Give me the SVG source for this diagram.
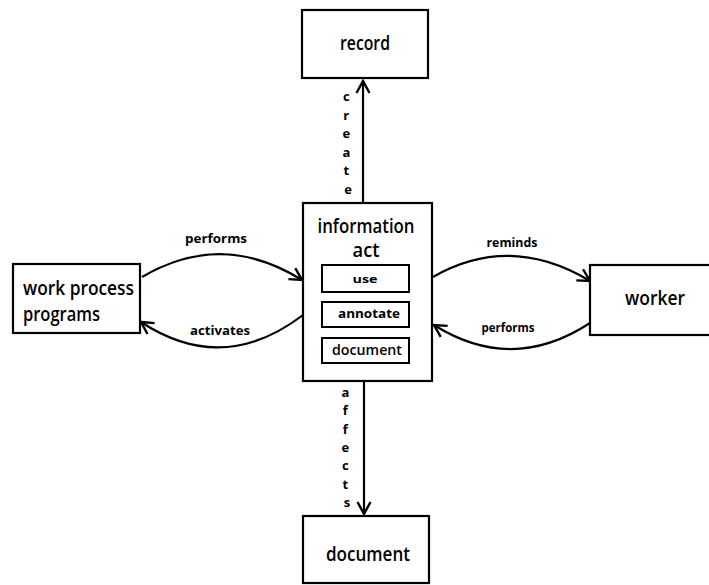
<svg xmlns="http://www.w3.org/2000/svg" width="709" height="585" viewBox="0 0 709 585">
  <style>
    .box { fill: #fff; stroke: #000; stroke-width: 2.2; }
    .sub { fill: #fff; stroke: #000; stroke-width: 2; }
    .conn { fill: none; stroke: #000; stroke-width: 2.2; }
    text { font-family: "Open Sans", "DejaVu Sans", sans-serif; fill: #000; text-anchor: middle; }
    .big { font-size: 19px; font-weight: 600; }
    .lbl { font-size: 12px; font-weight: 700; }
    .vert { font-size: 13px; font-weight: 700; }
  </style>
  <defs>
    <marker id="arrow" markerUnits="userSpaceOnUse" markerWidth="16" markerHeight="16" refX="13" refY="8" orient="auto" viewBox="0 0 16 16">
      <path d="M1,1.5 L13,8 L1,14.5" fill="none" stroke="#000" stroke-width="2.4" stroke-linejoin="miter"/>
    </marker>
  </defs>

  <rect width="709" height="585" fill="#fff"/>

  <!-- connectors -->
  <g id="connectors">
    <path class="conn" d="M363,203 L363,81" marker-end="url(#arrow)"/>
    <path class="conn" d="M364,381 L364,514" marker-end="url(#arrow)"/>
    <path class="conn" d="M142,277 Q222,230 302,280" marker-end="url(#arrow)"/>
    <path class="conn" d="M303,315 Q223,376 141,322" marker-end="url(#arrow)"/>
    <path class="conn" d="M433,277 Q510,233 590,281" marker-end="url(#arrow)"/>
    <path class="conn" d="M590,323 Q512,374 434,325" marker-end="url(#arrow)"/>

    <text class="lbl" x="216" y="243" textLength="62" lengthAdjust="spacingAndGlyphs">performs</text>
    <text class="lbl" x="220" y="335" textLength="60" lengthAdjust="spacingAndGlyphs">activates</text>
    <text class="lbl" x="512" y="247" textLength="51" lengthAdjust="spacingAndGlyphs">reminds</text>
    <text class="lbl" x="508" y="332" textLength="53" lengthAdjust="spacingAndGlyphs">performs</text>

    <text class="vert">
      <tspan x="348" y="101">c</tspan>
      <tspan x="348" y="119.5">r</tspan>
      <tspan x="348" y="138">e</tspan>
      <tspan x="348" y="156.5">a</tspan>
      <tspan x="348" y="175">t</tspan>
      <tspan x="348" y="193.5">e</tspan>
    </text>
    <text class="vert">
      <tspan x="347" y="397">a</tspan>
      <tspan x="347" y="415.3">f</tspan>
      <tspan x="347" y="433.6">f</tspan>
      <tspan x="347" y="451.9">e</tspan>
      <tspan x="347" y="470.2">c</tspan>
      <tspan x="347" y="488.5">t</tspan>
      <tspan x="347" y="506.8">s</tspan>
    </text>
  </g>

  <!-- nodes -->
  <g id="record">
    <rect class="box" x="302" y="10" width="126" height="68"/>
    <text class="big" x="365" y="50" textLength="50" lengthAdjust="spacingAndGlyphs">record</text>
  </g>

  <g id="information-act">
    <rect class="box" x="303" y="203" width="129" height="178"/>
    <text class="big" x="366" y="233" textLength="97" lengthAdjust="spacingAndGlyphs">information</text>
    <text class="big" x="366" y="257" textLength="27" lengthAdjust="spacingAndGlyphs">act</text>
    <g id="use">
      <rect class="sub" x="322" y="265" width="87" height="27"/>
      <text x="365" y="283" style="font-size:11px;font-weight:700" textLength="25" lengthAdjust="spacingAndGlyphs">use</text>
    </g>
    <g id="annotate">
      <rect class="sub" x="322" y="302" width="87" height="25"/>
      <text x="369" y="318" style="font-size:13px;font-weight:700" textLength="62" lengthAdjust="spacingAndGlyphs">annotate</text>
    </g>
    <g id="document-act">
      <rect class="sub" x="322" y="338" width="87" height="25"/>
      <text x="367" y="355" style="font-size:14px;font-weight:600" textLength="70" lengthAdjust="spacingAndGlyphs">document</text>
    </g>
  </g>

  <g id="work-process-programs">
    <rect class="box" x="13" y="264" width="127" height="69"/>
    <text class="big" x="78.5" y="295" textLength="111" lengthAdjust="spacingAndGlyphs">work process</text>
    <text class="big" x="61.5" y="321" textLength="77" lengthAdjust="spacingAndGlyphs">programs</text>
  </g>

  <g id="worker">
    <rect class="box" x="590" y="265" width="130" height="70"/>
    <text class="big" x="655" y="305" textLength="60" lengthAdjust="spacingAndGlyphs">worker</text>
  </g>

  <g id="document">
    <rect class="box" x="303" y="516" width="126" height="67"/>
    <text class="big" x="368" y="561" textLength="84" lengthAdjust="spacingAndGlyphs">document</text>
  </g>
</svg>
